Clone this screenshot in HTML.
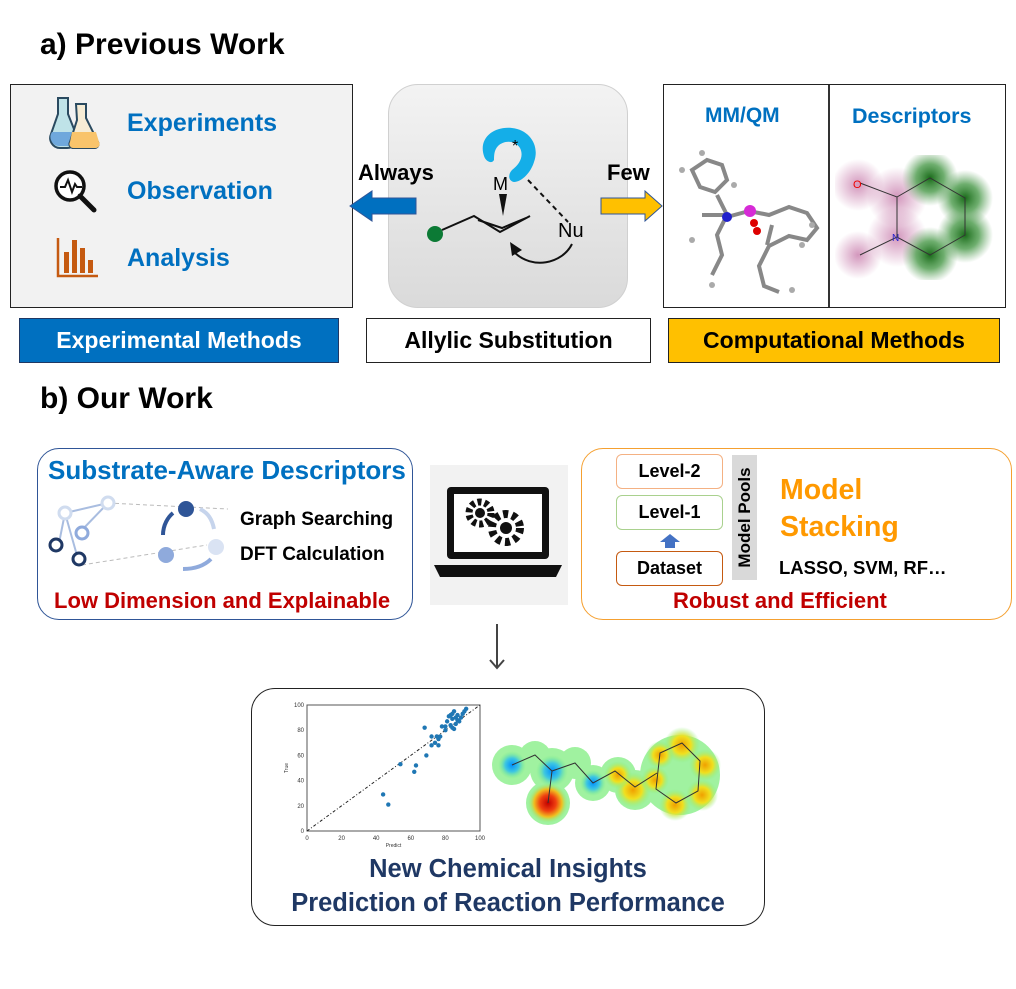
<!DOCTYPE html>
<html><head><meta charset="utf-8"><style>
body{margin:0;width:1016px;height:989px;background:#fff;position:relative;overflow:hidden;font-family:"Liberation Sans",sans-serif}
.a{position:absolute}
.b{font-weight:bold}
</style></head><body>
<div class="a b" style="left:40px;top:28px;font-size:30px">a) Previous Work</div>
<div class="a b" style="left:40px;top:382px;font-size:30px">b) Our Work</div>

<!-- experimental box -->
<div class="a" style="left:10px;top:84px;width:341px;height:222px;background:#f2f2f2;border:1.5px solid #222"></div>
<svg class="a" style="left:48px;top:96px" width="56" height="56" viewBox="0 0 56 56">
<path d="M10 2h10v16l8 20a10 10 0 0 1-10 14h-6a10 10 0 0 1-9-14l7-20z" fill="#bfe3e8" stroke="#2a4a60" stroke-width="2"/>
<path d="M4 36h24a9 9 0 0 1-8 14h-8a9 9 0 0 1-8-14z" fill="#6fa8dc"/>
<path d="M28 8h10v14l12 24a4 4 0 0 1-3 6H26a4 4 0 0 1-4-6l7-22z" fill="#f6ecd5" stroke="#2a4a60" stroke-width="2"/>
<path d="M24 36h24l3 10a4 4 0 0 1-3 6H26a4 4 0 0 1-4-6z" fill="#f9c46b"/>
</svg>
<svg class="a" style="left:52px;top:168px" width="48" height="48" viewBox="0 0 48 48">
<circle cx="18" cy="18" r="14" fill="#fff" stroke="#111" stroke-width="3.5"/>
<path d="M8 19h5l3-7 4 12 3-8 2 3h5" fill="none" stroke="#111" stroke-width="2"/>
<path d="M28 28l14 14" stroke="#111" stroke-width="5" stroke-linecap="round"/>
</svg>
<svg class="a" style="left:56px;top:236px" width="44" height="42" viewBox="0 0 44 42">
<path d="M2 2v38h40" fill="none" stroke="#c55a11" stroke-width="2.5"/>
<rect x="8" y="16" width="5" height="21" fill="#c55a11"/><rect x="16" y="4" width="5" height="33" fill="#c55a11"/>
<rect x="24" y="12" width="5" height="25" fill="#c55a11"/><rect x="32" y="24" width="5" height="13" fill="#c55a11"/>
</svg>
<div class="a b" style="left:127px;top:109px;font-size:25px;color:#0070c0">Experiments</div>
<div class="a b" style="left:127px;top:177px;font-size:25px;color:#0070c0">Observation</div>
<div class="a b" style="left:127px;top:244px;font-size:25px;color:#0070c0">Analysis</div>
<div class="a b" style="left:19px;top:318px;width:318px;height:43px;background:#0070c0;border:1.5px solid #1f3864;color:#fff;font-size:23px;line-height:43px;text-align:center">Experimental Methods</div>

<!-- center -->
<div class="a" style="left:388px;top:84px;width:238px;height:222px;border-radius:30px;border:1.5px solid #d0d0d0;background:linear-gradient(180deg,#f3f3f3,#dadada)"></div>
<svg class="a" style="left:388px;top:84px" width="240" height="224" viewBox="0 0 240 224">
<path d="M96 72c-6-18 10-30 28-28 18 2 28 18 22 34-3 10-12 20-20 20-6-1-6-8-2-12 8-6 12-14 8-22-5-8-16-8-22-2-4 4-4 10-4 14-2 4-8 2-10-4z" fill="#14aee8"/>
<text x="124" y="67" font-size="16" font-family="Liberation Sans">*</text>
<text x="105" y="106" font-size="18" font-family="Liberation Sans">M</text>
<path d="M111 110l4 22l4-22z" fill="#111"/>
<path d="M140 96l40 42" stroke="#111" stroke-width="2" stroke-dasharray="5,4"/>
<text x="170" y="153" font-size="20" font-family="Liberation Sans">Nu</text>
<path d="M54 146l32-14l26 16l30-16" fill="none" stroke="#111" stroke-width="2"/>
<path d="M90 136l24 8l24-10" fill="none" stroke="#111" stroke-width="2"/>
<circle cx="47" cy="150" r="8" fill="#0c7a35"/>
<path d="M184 160c-10 20-40 26-58 8" fill="none" stroke="#111" stroke-width="2"/>
<path d="M122 158l2 14l10-6z" fill="#111"/>
</svg>
<div class="a b" style="left:358px;top:160px;font-size:22px">Always</div>
<svg class="a" style="left:348px;top:190px" width="70" height="32"><path d="M68 8H24V1L2 16l22 15v-7h44z" fill="#0070c0" stroke="#2f5597"/></svg>
<div class="a b" style="left:607px;top:160px;font-size:22px">Few</div>
<svg class="a" style="left:600px;top:190px" width="64" height="32"><path d="M1 8h44V1l17 15-17 15v-7H1z" fill="#ffc000" stroke="#2f5597"/></svg>
<div class="a b" style="left:366px;top:318px;width:283px;height:43px;border:1.5px solid #222;font-size:23px;line-height:43px;text-align:center">Allylic Substitution</div>

<!-- computational -->
<div class="a" style="left:663px;top:84px;width:341px;height:222px;border:1.5px solid #222;background:#fff"></div>
<div class="a" style="left:828px;top:85px;width:1.5px;height:222px;background:#333"></div>
<div class="a b" style="left:705px;top:104px;font-size:21px;color:#0070c0">MM/QM</div>
<div class="a b" style="left:852px;top:104px;font-size:21.5px;color:#0070c0">Descriptors</div>
<svg class="a" style="left:672px;top:145px" width="150" height="150" viewBox="0 0 150 150">
<g stroke="#888" stroke-width="4" fill="none">
<path d="M20 25l15-10 15 5 5 15-12 12-15-5z"/><path d="M45 50l10 20-10 20 5 20-10 20"/><path d="M30 70l25 0"/>
<path d="M55 72l22-6 20 4 20-8 18 6 10 15-10 12-18-4-20 10-10 20 5 20 15 6"/>
<path d="M100 80l-5 20"/>
</g>
<g fill="#aaa"><circle cx="10" cy="25" r="3"/><circle cx="30" cy="8" r="3"/><circle cx="62" cy="40" r="3"/><circle cx="20" cy="95" r="3"/><circle cx="140" cy="80" r="3"/><circle cx="130" cy="100" r="3"/><circle cx="120" cy="145" r="3"/><circle cx="40" cy="140" r="3"/></g>
<circle cx="55" cy="72" r="5" fill="#1f1fcc"/><circle cx="78" cy="66" r="6" fill="#d62bd6"/><circle cx="82" cy="78" r="4" fill="#d00"/><circle cx="85" cy="86" r="4" fill="#d00"/>
</svg>
<svg class="a" style="left:835px;top:155px" width="165" height="125" viewBox="0 0 165 125">
<defs><radialGradient id="pk"><stop offset="0" stop-color="#c06aa0" stop-opacity=".7"/><stop offset="1" stop-color="#c06aa0" stop-opacity="0"/></radialGradient>
<radialGradient id="gr"><stop offset="0" stop-color="#1a6b1a"/><stop offset=".5" stop-color="#4a9a4a" stop-opacity=".8"/><stop offset="1" stop-color="#6aa86a" stop-opacity="0"/></radialGradient></defs>
<circle cx="23" cy="30" r="26" fill="url(#pk)"/><circle cx="62" cy="42" r="30" fill="url(#pk)"/><circle cx="62" cy="82" r="30" fill="url(#pk)"/><circle cx="23" cy="100" r="24" fill="url(#pk)"/>
<circle cx="95" cy="23" r="28" fill="url(#gr)"/><circle cx="130" cy="43" r="28" fill="url(#gr)"/><circle cx="130" cy="80" r="28" fill="url(#gr)"/><circle cx="95" cy="100" r="28" fill="url(#gr)"/>
<path d="M25 28l37 14 33-19 35 20v37l-35 20-33-18-37 18M62 42v40" fill="none" stroke="#333" stroke-width="1"/>
<text x="18" y="33" font-size="11" fill="#e00" font-family="Liberation Sans">O</text><text x="57" y="86" font-size="10" fill="#22c" font-family="Liberation Sans">N</text>
</svg>
<div class="a b" style="left:668px;top:318px;width:330px;height:43px;background:#ffc000;border:1.5px solid #222;font-size:23px;line-height:43px;text-align:center">Computational Methods</div>

<!-- substrate aware box -->
<div class="a" style="left:37px;top:448px;width:374px;height:170px;border:1.5px solid #2f5597;border-radius:22px"></div>
<div class="a b" style="left:48px;top:455px;font-size:26px;color:#0070c0;white-space:nowrap">Substrate-Aware Descriptors</div>
<svg class="a" style="left:45px;top:495px" width="190" height="80" viewBox="0 0 190 80">
<g stroke="#bbb" stroke-dasharray="4,3" fill="none"><path d="M63 8l120 6M37 70l125-20"/></g>
<path d="M20 18l43-10M20 18l-6 30M20 18l13 46M36 36l27-28" stroke="#a9bde0" stroke-width="2"/>
<circle cx="20" cy="18" r="6" fill="#fff" stroke="#d0dcef" stroke-width="3"/><circle cx="63" cy="8" r="6" fill="#fff" stroke="#d0dcef" stroke-width="3"/>
<circle cx="37" cy="38" r="6" fill="#fff" stroke="#8faadc" stroke-width="3"/>
<circle cx="11" cy="50" r="6" fill="#fff" stroke="#1f3864" stroke-width="3"/><circle cx="34" cy="64" r="6" fill="#fff" stroke="#1f3864" stroke-width="3"/>
<circle cx="141" cy="14" r="8" fill="#2f5597"/><circle cx="171" cy="52" r="8" fill="#dae3f3"/><circle cx="121" cy="60" r="8" fill="#8faadc"/>
<path d="M118 40c0-10 5-18 10-22" stroke="#2f5597" stroke-width="4" fill="none"/>
<path d="M155 14c8 4 12 10 14 20" stroke="#c6d4ec" stroke-width="4" fill="none"/>
<path d="M166 64c-8 8-18 10-28 10" stroke="#8faadc" stroke-width="4" fill="none"/>
</svg>
<div class="a b" style="left:240px;top:509px;font-size:19px">Graph Searching</div>
<div class="a b" style="left:240px;top:544px;font-size:19px">DFT Calculation</div>
<div class="a b" style="left:54px;top:588px;font-size:22px;color:#c00000;white-space:nowrap">Low Dimension and Explainable</div>

<!-- laptop -->
<div class="a" style="left:430px;top:465px;width:138px;height:140px;background:#f2f2f2"></div>
<svg class="a" style="left:430px;top:465px" width="138" height="140" viewBox="0 0 138 140">
<rect x="17" y="22" width="102" height="72" rx="4" fill="#111"/><rect x="24" y="29" width="88" height="58" fill="#fff"/>
<path d="M4 100h128l-6 12H10z" fill="#111"/>
<circle cx="50" cy="48" r="11" fill="none" stroke="#111" stroke-width="7" stroke-dasharray="4,3"/><circle cx="50" cy="48" r="5" fill="#111"/>
<circle cx="76" cy="63" r="14" fill="none" stroke="#111" stroke-width="8" stroke-dasharray="5,4"/><circle cx="76" cy="63" r="6" fill="#111"/>
</svg>

<!-- model stacking -->
<div class="a" style="left:581px;top:448px;width:429px;height:170px;border:1.5px solid #f5a030;border-radius:22px"></div>
<div class="a b" style="left:616px;top:454px;width:105px;height:33px;border:1.5px solid #f4b183;border-radius:6px;font-size:18px;line-height:33px;text-align:center">Level-2</div>
<div class="a b" style="left:616px;top:495px;width:105px;height:33px;border:1.5px solid #a9d18e;border-radius:6px;font-size:18px;line-height:33px;text-align:center">Level-1</div>
<svg class="a" style="left:659px;top:533px" width="22" height="16"><path d="M11 1l10 8h-5v6H6V9H1z" fill="#4472c4"/></svg>
<div class="a b" style="left:616px;top:551px;width:105px;height:33px;border:1.5px solid #c55a11;border-radius:6px;font-size:18px;line-height:33px;text-align:center">Dataset</div>
<div class="a" style="left:732px;top:455px;width:25px;height:125px;background:#d9d9d9"></div>
<div class="a b" style="left:682px;top:505px;width:125px;height:25px;transform:rotate(-90deg);font-size:17px;line-height:25px;text-align:center">Model Pools</div>
<div class="a b" style="left:780px;top:472px;font-size:28.5px;line-height:37px;color:#ff9900">Model<br>Stacking</div>
<div class="a b" style="left:779px;top:557px;font-size:18.5px">LASSO, SVM, RF…</div>
<div class="a b" style="left:673px;top:588px;font-size:22px;color:#c00000">Robust and Efficient</div>

<svg class="a" style="left:487px;top:622px" width="20" height="50"><path d="M10 2v44M3 38l7 8 7-8" stroke="#444" stroke-width="2" fill="none"/></svg>

<!-- result box -->
<div class="a" style="left:251px;top:688px;width:512px;height:236px;border:1.5px solid #222;border-radius:24px"></div>
<svg class="a" id="sc" style="left:280px;top:695px" width="215" height="155"></svg>
<svg class="a" style="left:490px;top:695px" width="240" height="140" viewBox="0 0 240 140">
<defs><radialGradient id="bl"><stop offset="0" stop-color="#0090ff"/><stop offset=".5" stop-color="#40c8e0"/><stop offset="1" stop-color="#80f080" stop-opacity="0"/></radialGradient>
<radialGradient id="rd"><stop offset="0" stop-color="#c00000"/><stop offset=".4" stop-color="#f04010"/><stop offset=".7" stop-color="#f0c020"/><stop offset="1" stop-color="#80f080" stop-opacity="0"/></radialGradient>
<radialGradient id="ye"><stop offset="0" stop-color="#f0a000"/><stop offset=".5" stop-color="#f0e020"/><stop offset="1" stop-color="#80f080" stop-opacity="0"/></radialGradient></defs>
<g fill="#90f090" opacity=".85"><circle cx="22" cy="70" r="20"/><circle cx="45" cy="62" r="16"/><circle cx="62" cy="75" r="22"/><circle cx="85" cy="68" r="16"/><circle cx="103" cy="88" r="18"/><circle cx="58" cy="108" r="22"/><circle cx="128" cy="80" r="18"/><circle cx="145" cy="95" r="20"/><circle cx="190" cy="80" r="40"/></g>
<circle cx="22" cy="70" r="14" fill="url(#bl)"/><circle cx="62" cy="76" r="16" fill="url(#bl)"/><circle cx="103" cy="88" r="13" fill="url(#bl)"/>
<circle cx="58" cy="108" r="20" fill="url(#rd)"/><circle cx="143" cy="95" r="18" fill="url(#ye)"/><circle cx="128" cy="80" r="14" fill="url(#ye)"/>
<g fill="url(#ye)"><circle cx="192" cy="50" r="18"/><circle cx="215" cy="70" r="16"/><circle cx="212" cy="100" r="16"/><circle cx="185" cy="110" r="16"/><circle cx="165" cy="85" r="14"/><circle cx="170" cy="60" r="14"/></g>
<path d="M22 70l23-10 17 16 23-8 18 20 22-12 20 16 22-14M62 76l-4 32M170 58l22-10 18 18-2 30-22 12-20-14z" fill="none" stroke="#333" stroke-width="1"/>
</svg>
<div class="a b" style="left:251px;top:852px;width:514px;text-align:center;font-size:25.5px;line-height:34px;color:#1f3864;white-space:nowrap">New Chemical Insights<br>Prediction of Reaction Performance</div>

<script>
const predicted=[44,47,54,62,63,68,69,72,72,74,75,76,76,77,78,80,81,82,83,84,84,85,85,86,86,87,88,89,90,91,92,84,83,87,80];
const trueVals=[29,21,53,47,52,82,60,75,68,70,75,68,73,75,83,83,87,91,92,89,82,95,81,85,90,92,87,90,93,95,97,93,84,88,80];
const ticks=[0,20,40,60,80,100];
const NS='http://www.w3.org/2000/svg';
const svg=document.getElementById('sc');
const X0=27,X1=200,Y0=136,Y1=10;
const sx=v=>X0+(X1-X0)*v/100, sy=v=>Y0-(Y0-Y1)*v/100;
function mk(t,a){const e=document.createElementNS(NS,t);for(const k in a)e.setAttribute(k,a[k]);svg.appendChild(e);return e;}
const fr=mk('rect',{x:X0,y:Y1,width:X1-X0,height:Y0-Y1,fill:'#fff',stroke:'#555','stroke-width':1});


const dl=mk('line',{x1:sx(0),y1:sy(0),x2:sx(100),y2:sy(100),stroke:'#222','stroke-dasharray':'3,2,1,2'});


ticks.forEach(t=>{
 const a=mk('text',{x:sx(t),y:Y0+9,'font-size':6,'text-anchor':'middle',fill:'#333'});a.textContent=t;
 
 
 const b=mk('text',{x:X0-3,y:sy(t)+2,'font-size':6,'text-anchor':'end',fill:'#333'});b.textContent=t;
 
 
});
const xl=mk('text',{x:(X0+X1)/2,y:Y0+16,'font-size':5,'text-anchor':'middle',fill:'#333'});xl.textContent='Predict';


const yl=mk('text',{x:8,y:(Y0+Y1)/2,'font-size':5,'text-anchor':'middle',fill:'#333',transform:`rotate(-90 8 ${(Y0+Y1)/2})`});yl.textContent='True';


predicted.forEach((p,i)=>{
 const c=mk('circle',{cx:sx(p),cy:sy(trueVals[i]),r:2.2,fill:'#1f77b4'});
 
 
});
</script>
</body></html>
